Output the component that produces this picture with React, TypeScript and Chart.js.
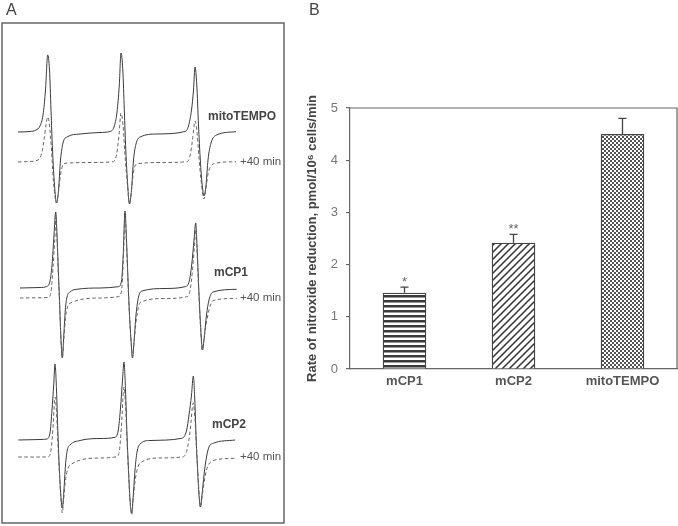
import React, { useEffect, useRef } from "react";
import { Chart, registerables } from "chart.js";

Chart.register(...registerables);

const FONT = "'Liberation Sans', Arial, Helvetica, sans-serif";

// ---------------- Panel B data ----------------
const categories = ["mCP1", "mCP2", "mitoTEMPO"];
const rates = [1.46, 2.42, 4.5];
const rateErrors = [0.11, 0.16, 0.3];
const significance = ["*", "**", ""];
const yMin = 0;
const yMax = 5;
const yStep = 1;
const yTitle = "Rate of nitroxide reduction, pmol/10\u2076 cells/min";

// ---------------- Panel A data: EPR spectra [field, signal] ----------------
const mitoBefore: [number, number][] = [
  [18, 0], [30, 0.5], [36, 2], [40, 6], [43, 17], [45.5, 42], [47.7, 77], [49.5, 62], [51, 22], [52.5, -18],
  [54.5, -53], [56.5, -71], [58.5, -58], [60.5, -28], [63, -11], [67, -5], [80, -2], [100, -0.5], [110, 0.5],
  [114, 5], [117, 20], [119.3, 47], [121, 79], [122.8, 62], [124.3, 22], [125.8, -18], [127.7, -53], [129.5, -72],
  [131.5, -58], [133.5, -28], [136, -12], [140, -5], [157, -2], [185, 0.5], [188.5, 6], [191.5, 22], [193.5, 42],
  [195, 65], [196.8, 47], [198.5, 7], [200.3, -28], [202.2, -53], [204, -64], [206, -53], [208, -28], [211, -11],
  [216.7, -3], [236, 0.3],
];
const mitoAfter: [number, number][] = [
  [18, 0], [30, 0.5], [38, 2], [41.5, 8], [44, 22], [46, 37], [47.7, 45], [49.5, 37], [51.5, 12], [53, -13],
  [54.8, -33], [56.5, -41], [58.5, -30], [60.5, -13], [62.5, -4], [65, -1.3], [90, -0.5], [113, 0.3], [116.5, 7],
  [119, 27], [121, 49], [123, 37], [125, 7], [127, -18], [129.5, -42], [131.5, -28], [133.5, -10], [136.7, -2],
  [160, -0.5], [186.7, 0.3], [190, 6], [192.5, 22], [195, 41], [197, 30], [199, 4], [201, -18], [204, -37],
  [206, -26], [208, -12], [211, -4], [215, -1.3], [236, 0.3],
];
const mcp1Before: [number, number][] = [
  [20, 0], [40, 0.5], [46.7, 1.5], [50, 7], [52, 23], [54, 53], [55.7, 76], [57, 53], [58.3, 18], [59.5, -12],
  [60.8, -47], [62.3, -70], [63.8, -47], [65.3, -22], [67, -9], [70, -4], [76.7, -1.3], [100, 0], [118.3, 1.3],
  [121.5, 7], [123.2, 33], [125, 77], [126.5, 48], [128, 8], [129.5, -27], [131, -52], [132.5, -70], [134, -54],
  [136, -27], [138.5, -9], [142, -3], [165, -0.5], [185, 1.3], [189.3, 7], [192, 26], [194, 48], [195.7, 65],
  [197.2, 38], [198.6, 3], [200, -27], [201.3, -50], [202.5, -62], [204, -52], [206.5, -27], [209, -12],
  [213, -4], [236.7, -1.3],
];
const mcp1After: [number, number][] = [
  [20, 0], [40, 0.2], [48.3, 0.7], [51, 6], [53, 30], [55, 63], [55.8, 81], [57, 60], [58.3, 26], [59.5, -4],
  [60.8, -38], [62.3, -60], [63.8, -42], [65.5, -20], [67.5, -9], [70, -5.3], [100, 0], [118.3, 1.3], [121.5, 7],
  [123.3, 36], [125, 81], [126.5, 55], [128, 16], [129.5, -18], [131, -42], [132.5, -59], [134, -45], [136, -24],
  [138.5, -9], [141, -4], [165, -0.5], [186.7, 1.3], [190, 7], [192.5, 28], [194.5, 53], [195.7, 68], [197.2, 43],
  [198.6, 10], [200, -20], [201.3, -42], [202, -52], [203.5, -44], [206, -27], [209, -12], [213.3, -2.5],
  [236.7, -0.3],
];
const mcp2Before: [number, number][] = [
  [18.3, 0], [40, 0.5], [46.7, 1], [50, 7], [52, 30], [53.7, 55], [55, 76], [56.5, 50], [57.8, 10], [59.2, -25],
  [60.8, -55], [62.3, -68], [63.8, -52], [65.5, -25], [67.3, -10], [70, -5], [80, -0.5], [100, 1.5], [115, 2.7],
  [118.3, 10], [120.5, 32], [122.5, 60], [124, 78], [125.5, 50], [127, 5], [128.5, -30], [130, -60], [131.7, -73],
  [133.3, -55], [135, -30], [137, -12], [140, -4], [150, -0.5], [181.7, 1.7], [186.7, 10], [189, 25], [191.5, 45],
  [193.3, 64], [194.8, 40], [196.2, 0], [197.6, -30], [199, -55], [200.3, -67], [202, -55], [204, -35],
  [206.5, -17], [209, -7], [213.3, -3.3], [235, 0],
];
const mcp2After: [number, number][] = [
  [18.3, 0], [40, 0], [48.3, 0.3], [51, 7], [53, 29], [55, 60], [56.5, 45], [57.8, 17], [59.2, -13], [60.8, -40],
  [62.3, -56], [63.8, -41], [65.5, -23], [67.5, -13], [70, -8], [100, -1], [116.7, 0.3], [119.5, 7], [121.5, 32],
  [124, 70], [125.5, 52], [127, 17], [128.5, -15], [130, -43], [131.7, -58], [133.3, -41], [135.5, -21], [138, -10],
  [140, -6], [160, -1], [183.3, 0.3], [187, 7], [190, 25], [193.3, 54], [195, 37], [196.5, 9], [198, -18],
  [199.3, -39], [200.7, -50], [202.3, -38], [204.5, -23], [206.5, -13], [208.3, -8], [215, -3], [235, -1.3],
];
const spectrumNames = ["mitoTEMPO", "mCP1", "mCP2"];
const afterLabel = "+40 min";

// ---------------- layout (stack offsets / label placement) ----------------
const beforeOffsets = [132, 288, 440];
const afterOffsets = [162, 298, 457];
const nameX = [208, 214, 212];
const afterLabelX = 240;
const nameLift = 15;

function stripePattern(ctx: CanvasRenderingContext2D) {
  const c = document.createElement("canvas");
  c.width = 5; c.height = 5;
  const g = c.getContext("2d")!;
  g.fillStyle = "#fff"; g.fillRect(0, 0, 5, 5);
  g.fillStyle = "#3a3a3a"; g.fillRect(0, 0, 5, 2);
  g.fillStyle = "#999"; g.fillRect(0, 2, 5, 1);
  return ctx.createPattern(c, "repeat")!;
}
function diagPattern(ctx: CanvasRenderingContext2D) {
  const s = 7;
  const c = document.createElement("canvas");
  c.width = s; c.height = s;
  const g = c.getContext("2d")!;
  g.fillStyle = "#fff"; g.fillRect(0, 0, s, s);
  g.strokeStyle = "#333"; g.lineWidth = 1.5;
  g.beginPath();
  g.moveTo(-1, s + 1); g.lineTo(s + 1, -1);
  g.moveTo(-2, 2); g.lineTo(2, -2);
  g.moveTo(s - 2, s + 2); g.lineTo(s + 2, s - 2);
  g.stroke();
  return ctx.createPattern(c, "repeat")!;
}
function checkPattern(ctx: CanvasRenderingContext2D) {
  const c = document.createElement("canvas");
  c.width = 4; c.height = 4;
  const g = c.getContext("2d")!;
  g.fillStyle = "#fff"; g.fillRect(0, 0, 4, 4);
  g.fillStyle = "#555"; g.fillRect(0, 0, 2, 2); g.fillRect(2, 2, 2, 2);
  return ctx.createPattern(c, "repeat")!;
}

const toPts = (tr: [number, number][], base: number) => tr.map(([x, v]) => ({ x, y: -base + v }));

function PanelA() {
  const ref = useRef<HTMLCanvasElement>(null);
  useEffect(() => {
    const befores = [mitoBefore, mcp1Before, mcp2Before];
    const afters = [mitoAfter, mcp1After, mcp2After];
    const datasets: any[] = [];
    befores.forEach((tr, i) => {
      datasets.push({
        data: toPts(afters[i], afterOffsets[i]),
        borderColor: "#666", borderWidth: 1, borderDash: [3.5, 2.5],
        pointRadius: 0, cubicInterpolationMode: "monotone", fill: false,
      });
      datasets.push({
        data: toPts(tr, beforeOffsets[i]),
        borderColor: "#3a3a3a", borderWidth: 1,
        pointRadius: 0, cubicInterpolationMode: "monotone", fill: false,
      });
    });
    const frame = {
      id: "frameA",
      afterDraw(chart: any) {
        const { ctx, chartArea: a, scales } = chart;
        ctx.save();
        ctx.strokeStyle = "#666"; ctx.lineWidth = 1.5;
        ctx.strokeRect(a.left, a.top, a.right - a.left, a.bottom - a.top);
        ctx.textBaseline = "middle"; ctx.textAlign = "left";
        spectrumNames.forEach((n, i) => {
          ctx.font = `bold 12px ${FONT}`; ctx.fillStyle = "#444";
          ctx.fillText(n, scales.x.getPixelForValue(nameX[i]), scales.y.getPixelForValue(-beforeOffsets[i] + nameLift));
          ctx.font = `11.5px ${FONT}`; ctx.fillStyle = "#555";
          ctx.fillText(afterLabel, scales.x.getPixelForValue(afterLabelX), scales.y.getPixelForValue(-afterOffsets[i]));
        });
        ctx.restore();
      },
    };
    const chart = new Chart(ref.current!, {
      type: "line",
      data: { datasets },
      options: {
        responsive: false, animation: false, events: [],
        layout: { padding: { left: 2, top: 23, right: 6, bottom: 3 } },
        plugins: { legend: { display: false }, tooltip: { enabled: false } },
        scales: {
          x: { type: "linear", min: 2, max: 284, display: false },
          y: { type: "linear", min: -523, max: -23, display: false },
        },
      },
      plugins: [frame],
    } as any);
    return () => chart.destroy();
  }, []);
  return <canvas ref={ref} width={290} height={526} style={{ position: "absolute", left: 0, top: 0 }} />;
}

function PanelB() {
  const ref = useRef<HTMLCanvasElement>(null);
  useEffect(() => {
    const ctx = ref.current!.getContext("2d")!;
    const fills = [stripePattern(ctx), diagPattern(ctx), checkPattern(ctx)];
    const extras = {
      id: "extrasB",
      afterDatasetsDraw(chart: any) {
        const { ctx, chartArea: a, scales } = chart;
        const meta = chart.getDatasetMeta(0);
        ctx.save();
        ctx.strokeStyle = "#444"; ctx.lineWidth = 1.3;
        rates.forEach((r, i) => {
          const x = meta.data[i].x;
          const yb = scales.y.getPixelForValue(r);
          const yt = scales.y.getPixelForValue(r + rateErrors[i]);
          ctx.beginPath();
          ctx.moveTo(x, yb); ctx.lineTo(x, yt);
          ctx.moveTo(x - 4, yt); ctx.lineTo(x + 4, yt);
          ctx.stroke();
          if (significance[i]) {
            ctx.font = `13px ${FONT}`; ctx.fillStyle = "#666";
            ctx.textAlign = "center"; ctx.textBaseline = "alphabetic";
            ctx.fillText(significance[i], x, yt - 1);
          }
        });
        ctx.strokeStyle = "#666"; ctx.lineWidth = 1.2;
        ctx.beginPath();
        ctx.moveTo(a.left, a.top); ctx.lineTo(a.right, a.top); ctx.lineTo(a.right, a.bottom);
        ctx.stroke();
        ctx.restore();
      },
    };
    const chart = new Chart(ref.current!, {
      type: "bar",
      data: {
        labels: categories,
        datasets: [{
          data: rates, backgroundColor: fills, borderColor: "#444", borderWidth: 1.3,
          barPercentage: 0.4, categoryPercentage: 1,
        }],
      },
      options: {
        responsive: false, animation: false, events: [],
        layout: { padding: { left: 15, top: 108, right: 1, bottom: 127 } },
        plugins: { legend: { display: false }, tooltip: { enabled: false } },
        scales: {
          x: {
            grid: { display: false, drawTicks: false },
            border: { color: "#666", width: 1.2 },
            ticks: { color: "#555", font: { family: FONT, size: 13, weight: "bold" }, padding: 5 },
            afterFit: (s: any) => { s.height = 30; },
          },
          y: {
            min: yMin, max: yMax,
            ticks: { stepSize: yStep, color: "#777", font: { family: FONT, size: 13 }, padding: 8 },
            grid: { display: true, drawOnChartArea: false, drawTicks: true, tickLength: 4, color: "#666", lineWidth: 1.2 },
            border: { color: "#666", width: 1.2 },
            title: { display: true, text: yTitle, color: "#444", font: { family: FONT, size: 13, weight: "bold" }, padding: 0 },
            afterFit: (s: any) => { s.width = 45; },
          },
        },
      },
      plugins: [extras],
    } as any);
    return () => chart.destroy();
  }, []);
  return <canvas ref={ref} width={388} height={526} style={{ position: "absolute", left: 290, top: 0 }} />;
}

export default function App() {
  const lab: React.CSSProperties = { position: "absolute", top: 1.5, fontFamily: FONT, fontSize: 16, lineHeight: "16px", color: "#444" };
  return (
    <div style={{ position: "absolute", left: 0, top: 0, width: 678, height: 526, background: "#fff", overflow: "hidden" }}>
      <PanelA />
      <PanelB />
      <div style={{ ...lab, left: 6 }}>A</div>
      <div style={{ ...lab, left: 309 }}>B</div>
    </div>
  );
}
